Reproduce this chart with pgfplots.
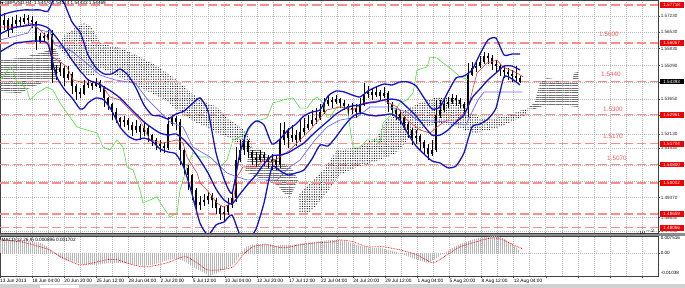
\documentclass[border=0pt]{standalone}
\usepackage{fontspec}
\setmainfont{Liberation Sans}
\newfontfamily\djv{DejaVu Sans}
\usepackage{pgfplots}
\usepackage{pgfplotstable}
\pgfplotsset{compat=1.18}
\usetikzlibrary{patterns,patterns.meta}
\definecolor{bbblue}{RGB}{20,20,200}
\definecolor{kijun}{RGB}{110,110,250}
\definecolor{tenkan}{RGB}{235,60,60}
\definecolor{chikou}{RGB}{80,225,60}
\definecolor{lvl}{RGB}{255,140,140}
\definecolor{lvltext}{RGB}{245,90,90}
\definecolor{boxred}{RGB}{240,0,0}
\definecolor{gridc}{RGB}{185,185,185}
\newcommand{\tickfont}{\fontsize{4.6}{5}\selectfont}
\newcommand{\xfont}{\fontsize{4.8}{5.2}\selectfont}
\newcommand{\lvlfont}{\fontsize{6.4}{7}\selectfont}
\tikzset{
  lvlline/.style={lvl, line width=1.3bp, dash pattern=on 9bp off 4bp},
  pbox/.style={anchor=west, fill=boxred, text=white, font=\tickfont, inner sep=0, minimum width=24bp, minimum height=5.6bp},
  dotcloud/.style={draw=none, pattern={Dots[distance=2.4bp,radius=0.6bp]}, pattern color=black},
  linecloud/.style={draw=none, pattern={Lines[angle=0,distance=2.3bp,line width=0.4bp]}, pattern color=black!55},
}

% x = time position (chart pixels, 2 per H4 bar), o h l c = prices
\pgfplotstableread{
x o h l c
0 1.5672 1.5732 1.5641 1.5685
4 1.5685 1.5737 1.5663 1.5706
8 1.5706 1.5715 1.5633 1.5663
12 1.5663 1.5719 1.5650 1.5689
16 1.5689 1.5728 1.5672 1.5706
20 1.5706 1.5719 1.5676 1.5698
24 1.5698 1.5732 1.5689 1.5715
28 1.5715 1.5728 1.5680 1.5706
32 1.5706 1.5724 1.5672 1.5698
36 1.5698 1.5702 1.5577 1.5611
40 1.5611 1.5650 1.5607 1.5637
44 1.5637 1.5650 1.5611 1.5628
48 1.5628 1.5663 1.5620 1.5646
52 1.5646 1.5663 1.5434 1.5490
56 1.5490 1.5512 1.5447 1.5481
60 1.5481 1.5520 1.5464 1.5499
64 1.5499 1.5507 1.5421 1.5455
68 1.5455 1.5507 1.5447 1.5473
72 1.5473 1.5481 1.5386 1.5421
76 1.5421 1.5429 1.5360 1.5395
80 1.5395 1.5412 1.5369 1.5386
84 1.5386 1.5447 1.5382 1.5425
88 1.5425 1.5451 1.5412 1.5434
92 1.5434 1.5442 1.5403 1.5421
96 1.5421 1.5455 1.5416 1.5438
100 1.5438 1.5446 1.5395 1.5412
104 1.5412 1.5420 1.5330 1.5369
108 1.5369 1.5373 1.5317 1.5343
112 1.5343 1.5347 1.5273 1.5308
116 1.5308 1.5325 1.5260 1.5282
120 1.5282 1.5286 1.5239 1.5265
124 1.5265 1.5291 1.5243 1.5273
128 1.5273 1.5282 1.5230 1.5252
132 1.5252 1.5265 1.5204 1.5230
136 1.5230 1.5273 1.5217 1.5247
140 1.5247 1.5256 1.5187 1.5221
144 1.5221 1.5265 1.5204 1.5239
148 1.5239 1.5247 1.5178 1.5208
152 1.5208 1.5213 1.5161 1.5187
156 1.5187 1.5195 1.5144 1.5169
160 1.5169 1.5187 1.5135 1.5161
164 1.5161 1.5178 1.5131 1.5152
168 1.5152 1.5286 1.5144 1.5256
172 1.5256 1.5295 1.5247 1.5282
176 1.5282 1.5291 1.5230 1.5265
180 1.5265 1.5278 1.5079 1.5144
184 1.5144 1.5150 1.5035 1.5066
188 1.5066 1.5079 1.4970 1.5035
192 1.5035 1.5040 1.4927 1.4970
196 1.4970 1.4979 1.4875 1.4905
200 1.4905 1.4944 1.4884 1.4918
204 1.4918 1.4953 1.4901 1.4927
208 1.4927 1.4962 1.4910 1.4944
212 1.4944 1.4957 1.4892 1.4927
216 1.4927 1.4935 1.4866 1.4892
220 1.4892 1.4900 1.4840 1.4866
224 1.4866 1.4901 1.4832 1.4875
228 1.4875 1.4936 1.4862 1.4905
232 1.4905 1.4970 1.4892 1.4936
236 1.4936 1.5156 1.4920 1.5100
240 1.5100 1.5187 1.5092 1.5144
244 1.5144 1.5208 1.5122 1.5178
248 1.5178 1.5187 1.5109 1.5135
252 1.5135 1.5144 1.5079 1.5109
256 1.5109 1.5135 1.5070 1.5100
260 1.5100 1.5144 1.5092 1.5122
264 1.5122 1.5135 1.5074 1.5109
268 1.5109 1.5122 1.5066 1.5092
272 1.5092 1.5126 1.5057 1.5100
276 1.5100 1.5118 1.5057 1.5079
280 1.5079 1.5260 1.5066 1.5187
284 1.5187 1.5265 1.5165 1.5230
288 1.5230 1.5239 1.5152 1.5195
292 1.5195 1.5252 1.5178 1.5208
296 1.5208 1.5230 1.5161 1.5187
300 1.5187 1.5273 1.5180 1.5221
304 1.5221 1.5282 1.5208 1.5239
308 1.5239 1.5295 1.5230 1.5256
312 1.5256 1.5317 1.5247 1.5273
316 1.5273 1.5325 1.5256 1.5282
320 1.5282 1.5343 1.5273 1.5308
324 1.5308 1.5369 1.5300 1.5343
328 1.5343 1.5377 1.5334 1.5360
332 1.5360 1.5373 1.5325 1.5351
336 1.5351 1.5382 1.5343 1.5364
340 1.5364 1.5369 1.5325 1.5347
344 1.5347 1.5360 1.5317 1.5334
348 1.5334 1.5343 1.5291 1.5317
352 1.5317 1.5347 1.5299 1.5325
356 1.5325 1.5343 1.5282 1.5308
360 1.5308 1.5369 1.5300 1.5343
364 1.5343 1.5434 1.5335 1.5386
368 1.5386 1.5421 1.5369 1.5395
372 1.5395 1.5412 1.5360 1.5382
376 1.5382 1.5421 1.5373 1.5395
380 1.5395 1.5403 1.5360 1.5377
384 1.5377 1.5416 1.5369 1.5390
388 1.5390 1.5399 1.5308 1.5343
392 1.5343 1.5351 1.5291 1.5317
396 1.5317 1.5325 1.5273 1.5299
400 1.5299 1.5317 1.5256 1.5282
404 1.5282 1.5291 1.5230 1.5256
408 1.5256 1.5265 1.5195 1.5230
412 1.5230 1.5239 1.5165 1.5195
416 1.5195 1.5230 1.5169 1.5204
420 1.5204 1.5213 1.5144 1.5178
424 1.5178 1.5187 1.5122 1.5152
428 1.5152 1.5169 1.5100 1.5126
432 1.5126 1.5187 1.5118 1.5144
436 1.5144 1.5360 1.5135 1.5295
440 1.5295 1.5360 1.5282 1.5317
444 1.5317 1.5369 1.5308 1.5343
448 1.5343 1.5373 1.5325 1.5351
452 1.5351 1.5386 1.5343 1.5369
456 1.5369 1.5382 1.5334 1.5360
460 1.5360 1.5369 1.5325 1.5343
464 1.5343 1.5351 1.5308 1.5325
468 1.5325 1.5520 1.5286 1.5468
472 1.5468 1.5525 1.5464 1.5499
476 1.5499 1.5533 1.5481 1.5507
480 1.5507 1.5551 1.5499 1.5525
484 1.5525 1.5568 1.5516 1.5551
488 1.5551 1.5563 1.5516 1.5542
492 1.5542 1.5555 1.5490 1.5516
496 1.5516 1.5533 1.5481 1.5507
500 1.5507 1.5516 1.5464 1.5490
504 1.5490 1.5507 1.5455 1.5481
508 1.5481 1.5499 1.5447 1.5473
512 1.5473 1.5490 1.5438 1.5464
516 1.5464 1.5507 1.5438 1.5455
520 1.5455 1.5464 1.5434 1.5439
}\candles

% Bollinger bands: upper, middle, lower
\pgfplotstableread{
x up mid lo
0 1.5724 1.5646 1.5568
8 1.5737 1.5663 1.5589
16 1.5745 1.5676 1.5607
24 1.5750 1.5680 1.5611
32 1.5750 1.5685 1.5615
40 1.5750 1.5685 1.5615
48 1.5745 1.5672 1.5602
56 1.5815 1.5633 1.5468
64 1.5780 1.5585 1.5408
72 1.5698 1.5533 1.5369
80 1.5654 1.5486 1.5321
84 1.5607 1.5468 1.5325
88 1.5555 1.5447 1.5347
96 1.5499 1.5434 1.5369
104 1.5473 1.5416 1.5360
112 1.5473 1.5395 1.5312
120 1.5494 1.5369 1.5243
128 1.5468 1.5334 1.5204
136 1.5412 1.5299 1.5187
144 1.5338 1.5265 1.5195
152 1.5295 1.5239 1.5182
160 1.5291 1.5217 1.5148
168 1.5278 1.5208 1.5135
176 1.5299 1.5213 1.5126
184 1.5312 1.5187 1.5066
192 1.5343 1.5148 1.4953
200 1.5369 1.5100 1.4827
208 1.5312 1.5044 1.4775
216 1.5131 1.4975 1.4819
224 1.5018 1.4927 1.4832
232 1.4957 1.4910 1.4862
240 1.5131 1.4953 1.4775
248 1.5234 1.4996 1.4754
256 1.5269 1.5035 1.4801
264 1.5252 1.5083 1.4914
272 1.5169 1.5118 1.5070
280 1.5191 1.5122 1.5053
288 1.5230 1.5131 1.5035
296 1.5256 1.5152 1.5044
304 1.5291 1.5174 1.5057
312 1.5308 1.5208 1.5105
320 1.5317 1.5239 1.5165
328 1.5377 1.5269 1.5161
336 1.5399 1.5299 1.5200
344 1.5395 1.5321 1.5247
352 1.5382 1.5334 1.5286
360 1.5373 1.5338 1.5304
368 1.5399 1.5347 1.5295
376 1.5416 1.5351 1.5291
384 1.5429 1.5360 1.5295
392 1.5425 1.5364 1.5299
400 1.5438 1.5356 1.5273
408 1.5438 1.5325 1.5213
416 1.5421 1.5291 1.5161
424 1.5369 1.5247 1.5126
432 1.5321 1.5208 1.5096
440 1.5330 1.5208 1.5087
448 1.5395 1.5230 1.5066
456 1.5455 1.5265 1.5074
464 1.5464 1.5295 1.5131
472 1.5490 1.5369 1.5243
480 1.5559 1.5408 1.5256
488 1.5620 1.5447 1.5278
496 1.5628 1.5477 1.5325
504 1.5555 1.5507 1.5460
512 1.5559 1.5507 1.5451
520 1.5559 1.5490 1.5425
}\bands

\begin{document}
\begin{tikzpicture}
\path[use as bounding box] (0,0) rectangle (685bp,288bp);
\fill[white] (0,0) rectangle (685bp,288bp);
% panel separator and bottom strip
\fill[black!45] (0,52bp) rectangle (685bp,55bp);
\fill[black!18] (0,0) rectangle (685bp,4bp);
\fill[white] (40bp,0) rectangle (79bp,3.2bp);

\begin{axis}[
  at={(0bp,288bp)}, anchor=north west,
  width=658bp, height=233bp, scale only axis,
  xmin=0, xmax=658, ymin=1.4784, ymax=1.5793,
  clip mode=individual,
  axis line style={black!75, line width=0.6bp},
  xtick={0,32.1,...,642}, xticklabels={},
  minor x tick num=1,
  x tick style={draw=none}, minor x tick style={draw=none},
  xmajorgrids, xminorgrids, ymajorgrids,
  major grid style={gridc, dash pattern=on 0.6bp off 1.4bp, line width=0.45bp},
  minor grid style={gridc, dash pattern=on 0.6bp off 1.4bp, line width=0.45bp},
  ytick={1.47930,1.48510,1.49370,1.50075,1.50790,1.51530,1.52130,1.52930,1.53650,1.54370,1.55090,1.55830,1.56530,1.57230},
  yticklabels={1.47930,1.48650,1.49370,,,1.51530,1.52130,,1.53650,,1.55090,1.55830,1.56530,1.57230},
  ytick pos=right, yticklabel pos=right,
  y tick style={black!70, line width=0.4bp},
  tick align=outside, major tick length=2bp,
  yticklabel style={font=\tickfont, inner sep=0.6bp, text=black!85},
]
% Ichimoku cloud
\addplot[forget plot, linecloud]
 coordinates {(0,1.5533)(20,1.5542)(40,1.5563)(55,1.5585)(62,1.5525)(55,1.5447)(43,1.5434)(30,1.5412)(20,1.5390)(0,1.5395)};
\addplot[forget plot, dotcloud]
 coordinates {(58,1.5598)(65,1.5641)(75,1.5672)(83,1.5693)(90,1.5685)(96,1.5641)(100,1.5611)(110,1.5594)(120,1.5585)(130,1.5568)(140,1.5546)(150,1.5525)(160,1.5499)(170,1.5468)(180,1.5438)(190,1.5395)(200,1.5360)(207,1.5347)(217,1.5330)(230,1.5273)(240,1.5243)(247,1.5217)(252,1.5178)(252,1.5152)(245,1.5144)(237,1.5174)(230,1.5195)(217,1.5217)(207,1.5243)(197,1.5260)(187,1.5286)(175,1.5325)(165,1.5360)(155,1.5382)(145,1.5403)(135,1.5425)(125,1.5447)(115,1.5468)(105,1.5490)(100,1.5499)(95,1.5468)(87,1.5468)(77,1.5503)(67,1.5546)(60,1.5577)};
\addplot[forget plot, linecloud]
 coordinates {(250,1.5156)(260,1.5144)(270,1.5113)(283,1.5087)(293,1.5057)(298,1.5014)(290,1.4936)(283,1.4962)(277,1.4992)(267,1.5009)(257,1.5027)(245,1.5048)(248,1.5109)};
\addplot[forget plot, dotcloud]
 coordinates {(298,1.4949)(305,1.4979)(315,1.5022)(325,1.5066)(337,1.5144)(357,1.5152)(377,1.5200)(387,1.5273)(400,1.5304)(420,1.5347)(435,1.5369)(450,1.5373)(460,1.5360)(468,1.5308)(480,1.5282)(495,1.5282)(510,1.5295)(522,1.5317)(528,1.5325)(528,1.5308)(520,1.5282)(505,1.5252)(490,1.5230)(475,1.5217)(465,1.5230)(450,1.5252)(435,1.5256)(420,1.5230)(407,1.5187)(397,1.5131)(380,1.5100)(357,1.5070)(340,1.5035)(325,1.4949)(312,1.4884)(305,1.4862)(298,1.4875)};
\addplot[forget plot, linecloud]
 coordinates {(528,1.5325)(535,1.5351)(540,1.5438)(547,1.5455)(560,1.5447)(572,1.5438)(574,1.5477)(578,1.5481)(578,1.5330)(560,1.5338)(545,1.5338)(535,1.5321)};

% horizontal levels
\addplot[forget plot, lvlline] coordinates {(0,1.57718) (658,1.57718)};
\addplot[forget plot, lvlline] coordinates {(0,1.56067) (658,1.56067)};
\addplot[forget plot, lvlline] coordinates {(0,1.54393) (658,1.54393)};
\addplot[forget plot, lvlline] coordinates {(0,1.52961) (658,1.52961)};
\addplot[forget plot, lvlline] coordinates {(0,1.51704) (658,1.51704)};
\addplot[forget plot, lvlline] coordinates {(0,1.50800) (658,1.50800)};
\addplot[forget plot, lvlline] coordinates {(0,1.50002) (658,1.50002)};
\addplot[forget plot, lvlline] coordinates {(0,1.48659) (658,1.48659)};
\addplot[forget plot, lvlline] coordinates {(0,1.48066) (658,1.48066)};

% candles: wicks and bodies
\addplot[forget plot, draw=none, mark=none,
  error bars/.cd, y dir=both, y explicit, error mark=none,
  error bar style={draw=black, line width=0.5bp}]
  table[x=x, y=c, y error plus expr=\thisrow{h}-\thisrow{c}, y error minus expr=\thisrow{c}-\thisrow{l}] {\candles};
\addplot[forget plot, draw=none, mark=none,
  error bars/.cd, y dir=both, y explicit, error mark=none,
  error bar style={draw=black, line width=1.5bp}]
  table[x=x, y=c, y error plus expr={max(\thisrow{o}-\thisrow{c},0)}, y error minus expr={max(\thisrow{c}-\thisrow{o},0)}] {\candles};

% Chikou span
\addplot[forget plot, chikou, line width=0.6bp] coordinates {(0,1.5447)(3,1.5460)(10,1.5503)(13,1.5490)(17,1.5434)(20,1.5438)(27,1.5403)(30,1.5360)(37,1.5390)(47,1.5416)(53,1.5403)(60,1.5347)(67,1.5304)(77,1.5243)(87,1.5230)(97,1.5217)(103,1.5156)(110,1.5144)(117,1.5187)(123,1.5156)(127,1.5070)(133,1.5057)(140,1.4970)(143,1.4914)(150,1.4927)(157,1.4940)(163,1.4897)(170,1.4853)(177,1.4871)(180,1.4970)(187,1.5070)(193,1.5131)(200,1.5113)(210,1.5113)(220,1.5070)(227,1.5100)(233,1.5187)(240,1.5200)(247,1.5217)(253,1.5260)(260,1.5273)(267,1.5282)(273,1.5347)(283,1.5360)(293,1.5369)(300,1.5325)(307,1.5325)(313,1.5360)(317,1.5373)(323,1.5347)(327,1.5286)(330,1.5286)(337,1.5330)(347,1.5330)(353,1.5156)(360,1.5156)(367,1.5187)(373,1.5187)(380,1.5174)(383,1.5260)(393,1.5304)(400,1.5347)(407,1.5360)(413,1.5390)(417,1.5490)(427,1.5503)(430,1.5546)(437,1.5542)(443,1.5520)(450,1.5499)(460,1.5460)(468,1.5447)};
% Kijun-sen
\addplot[forget plot, kijun, line width=0.7bp] coordinates {(0,1.5620)(20,1.5641)(28,1.5650)(33,1.5685)(40,1.5663)(50,1.5654)(55,1.5598)(70,1.5577)(85,1.5525)(100,1.5468)(115,1.5447)(135,1.5434)(148,1.5360)(160,1.5308)(170,1.5265)(183,1.5243)(193,1.5156)(210,1.5113)(227,1.5044)(237,1.5027)(247,1.5014)(277,1.5014)(290,1.5070)(300,1.5100)(315,1.5187)(327,1.5243)(340,1.5273)(357,1.5286)(370,1.5330)(390,1.5330)(407,1.5308)(417,1.5273)(447,1.5265)(466,1.5252)(472,1.5308)(478,1.5360)(484,1.5395)(522,1.5395)};
% Tenkan-sen
\addplot[forget plot, tenkan, line width=0.6bp] coordinates {(0,1.5676)(20,1.5676)(30,1.5693)(35,1.5685)(47,1.5633)(53,1.5546)(67,1.5503)(73,1.5447)(83,1.5434)(100,1.5434)(110,1.5373)(120,1.5360)(133,1.5304)(140,1.5273)(150,1.5187)(163,1.5174)(177,1.5187)(183,1.5174)(187,1.5113)(197,1.5044)(200,1.5001)(207,1.4970)(217,1.4914)(223,1.4897)(233,1.4914)(237,1.5027)(243,1.5070)(257,1.5070)(263,1.5100)(270,1.5087)(280,1.5113)(290,1.5144)(300,1.5187)(310,1.5230)(327,1.5317)(340,1.5330)(353,1.5317)(363,1.5347)(383,1.5360)(397,1.5330)(407,1.5273)(420,1.5230)(430,1.5217)(437,1.5243)(447,1.5273)(457,1.5273)(467,1.5317)(470,1.5360)(477,1.5477)(487,1.5520)(497,1.5533)(503,1.5503)(517,1.5477)(523,1.5460)};
% Bollinger bands
\addplot[forget plot, bbblue, line width=1.3bp, smooth, tension=0.35] table[x=x, y=up] {\bands};
\addplot[forget plot, bbblue, line width=1.3bp, smooth, tension=0.35] table[x=x, y=mid] {\bands};
\addplot[forget plot, bbblue, line width=1.3bp, smooth, tension=0.35] table[x=x, y=lo] {\bands};

% level texts
\node[anchor=west, font=\lvlfont, text=lvltext, inner sep=0] at (axis cs:599,1.5644) {1.5600};
\node[anchor=west, font=\lvlfont, text=lvltext, inner sep=0] at (axis cs:601,1.5470) {1.5440};
\node[anchor=west, font=\lvlfont, text=lvltext, inner sep=0] at (axis cs:603,1.5321) {1.5300};
\node[anchor=west, font=\lvlfont, text=lvltext, inner sep=0] at (axis cs:603,1.5202) {1.5170};
\node[anchor=west, font=\lvlfont, text=lvltext, inner sep=0] at (axis cs:607,1.5109) {1.5070};

% price boxes on the scale
\node[pbox] at (axis cs:659.5,1.57718) {1.57718};
\node[pbox] at (axis cs:659.5,1.56067) {1.56067};
\node[pbox] at (axis cs:659.5,1.52961) {1.52961};
\node[pbox] at (axis cs:659.5,1.51704) {1.51704};
\node[pbox] at (axis cs:659.5,1.50800) {1.50800};
\node[pbox] at (axis cs:659.5,1.50002) {1.50002};
\node[pbox] at (axis cs:659.5,1.48659) {1.48659};
\node[pbox] at (axis cs:659.5,1.48066) {1.48066};
\node[pbox, fill=black] at (axis cs:659.5,1.54393) {1.54393};

% title
\node[anchor=north west, font=\fontsize{4.7}{5}\selectfont, inner sep=0] at (axis cs:1,1.5790) {{\djv\fontsize{3.4}{4}\selectfont ▼}\,GBPUSD,H4\ \ 1.54470 1.54514 1.54433 1.54469};
\end{axis}

\begin{axis}[
  at={(0bp,52bp)}, anchor=north west,
  width=658bp, height=40bp, scale only axis,
  xmin=0, xmax=658, ymin=-0.01038, ymax=0.007516,
  clip mode=individual,
  axis line style={black!75, line width=0.6bp},
  xtick={0,32.1,...,642},
  xticklabels={13 Jun 2013,18 Jun 04:00,20 Jun 20:00,25 Jun 12:00,28 Jun 04:00,2 Jul 20:00,5 Jul 12:00,10 Jul 04:00,12 Jul 20:00,17 Jul 12:00,22 Jul 04:00,24 Jul 20:00,29 Jul 12:00,1 Aug 04:00,5 Aug 20:00,8 Aug 12:00,13 Aug 04:00,,,,},
  xtick pos=left,
  minor x tick num=1, minor x tick style={draw=none},
  xmajorgrids, xminorgrids, ymajorgrids,
  major grid style={gridc, dash pattern=on 0.6bp off 1.4bp, line width=0.45bp},
  minor grid style={gridc, dash pattern=on 0.6bp off 1.4bp, line width=0.45bp},
  ytick={0}, yticklabels={0.00},
  ytick pos=right, yticklabel pos=right,
  tick align=outside, major tick length=2bp,
  tick style={black!70, line width=0.4bp},
  xticklabel style={font=\xfont, anchor=north west, inner sep=0.8bp, xshift=-0.8bp},
  yticklabel style={font=\tickfont, inner sep=0.6bp},
]
\addplot[forget plot, draw=none, pattern={Lines[angle=90,distance=2bp,line width=0.8bp]}, pattern color=black!28]
 coordinates {(0,0)(0,0.0058)(8,0.0058)(16,0.0054)(24,0.0054)(32,0.0049)(40,0.0045)(46,0.0031)(50,0.0013)(55,-0.0004)(60,-0.0022)(67,-0.0036)(73,-0.0040)(80,-0.0049)(88,-0.0054)(96,-0.0054)(104,-0.0049)(112,-0.0045)(120,-0.0045)(128,-0.0049)(136,-0.0054)(144,-0.0058)(152,-0.0054)(160,-0.0045)(168,-0.0031)(176,-0.0027)(184,-0.0036)(190,-0.0054)(196,-0.0072)(204,-0.0089)(210,-0.0103)(216,-0.0094)(222,-0.0080)(228,-0.0067)(234,-0.0049)(238,-0.0022)(242,0.0004)(246,0.0027)(252,0.0036)(260,0.0040)(268,0.0040)(276,0.0031)(284,0.0036)(292,0.0036)(300,0.0040)(308,0.0045)(316,0.0049)(324,0.0054)(332,0.0058)(340,0.0058)(348,0.0049)(356,0.0036)(364,0.0027)(372,0.0022)(380,0.0022)(388,0.0013)(396,0.0004)(404,-0.0009)(412,-0.0022)(420,-0.0036)(428,-0.0045)(434,-0.0031)(440,-0.0013)(448,0.0009)(456,0.0031)(464,0.0045)(472,0.0058)(480,0.0067)(488,0.0072)(494,0.0075)(500,0.0072)(506,0.0058)(512,0.0040)(518,0.0018)(520,0.0009)(520,0)};
\addplot[forget plot, red, line width=0.7bp, dash pattern=on 0.7bp off 0.9bp, smooth, tension=0.4]
 coordinates {(0,0.0058)(20,0.0049)(33,0.0036)(50,0.0013)(57,-0.0009)(67,-0.0031)(80,-0.0054)(93,-0.0045)(107,-0.0031)(117,-0.0031)(133,-0.0054)(147,-0.0063)(167,-0.0045)(180,-0.0022)(187,-0.0018)(197,-0.0045)(207,-0.0076)(220,-0.0076)(233,-0.0063)(243,-0.0009)(253,0.0027)(267,0.0036)(283,0.0022)(300,0.0036)(317,0.0045)(333,0.0049)(340,0.0058)(353,0.0049)(367,0.0027)(383,0.0027)(400,0.0013)(417,-0.0009)(433,-0.0045)(447,-0.0009)(460,0.0027)(473,0.0045)(483,0.0058)(493,0.0067)(503,0.0058)(513,0.0036)(523,0.0017)};
\node[anchor=north west, font=\fontsize{4.7}{5}\selectfont, inner sep=0] at (rel axis cs:0.002,0.96) {MACD(12,26,9) 0.000896 0.001702};
\node[anchor=north west, font=\tickfont, inner sep=0] at ([xshift=2.6bp]rel axis cs:1,1) {0.007516};
\node[anchor=south west, font=\tickfont, inner sep=0] at ([xshift=2.6bp,yshift=1bp]rel axis cs:1,0) {-0.01038};
\end{axis}
\end{tikzpicture}
\end{document}
